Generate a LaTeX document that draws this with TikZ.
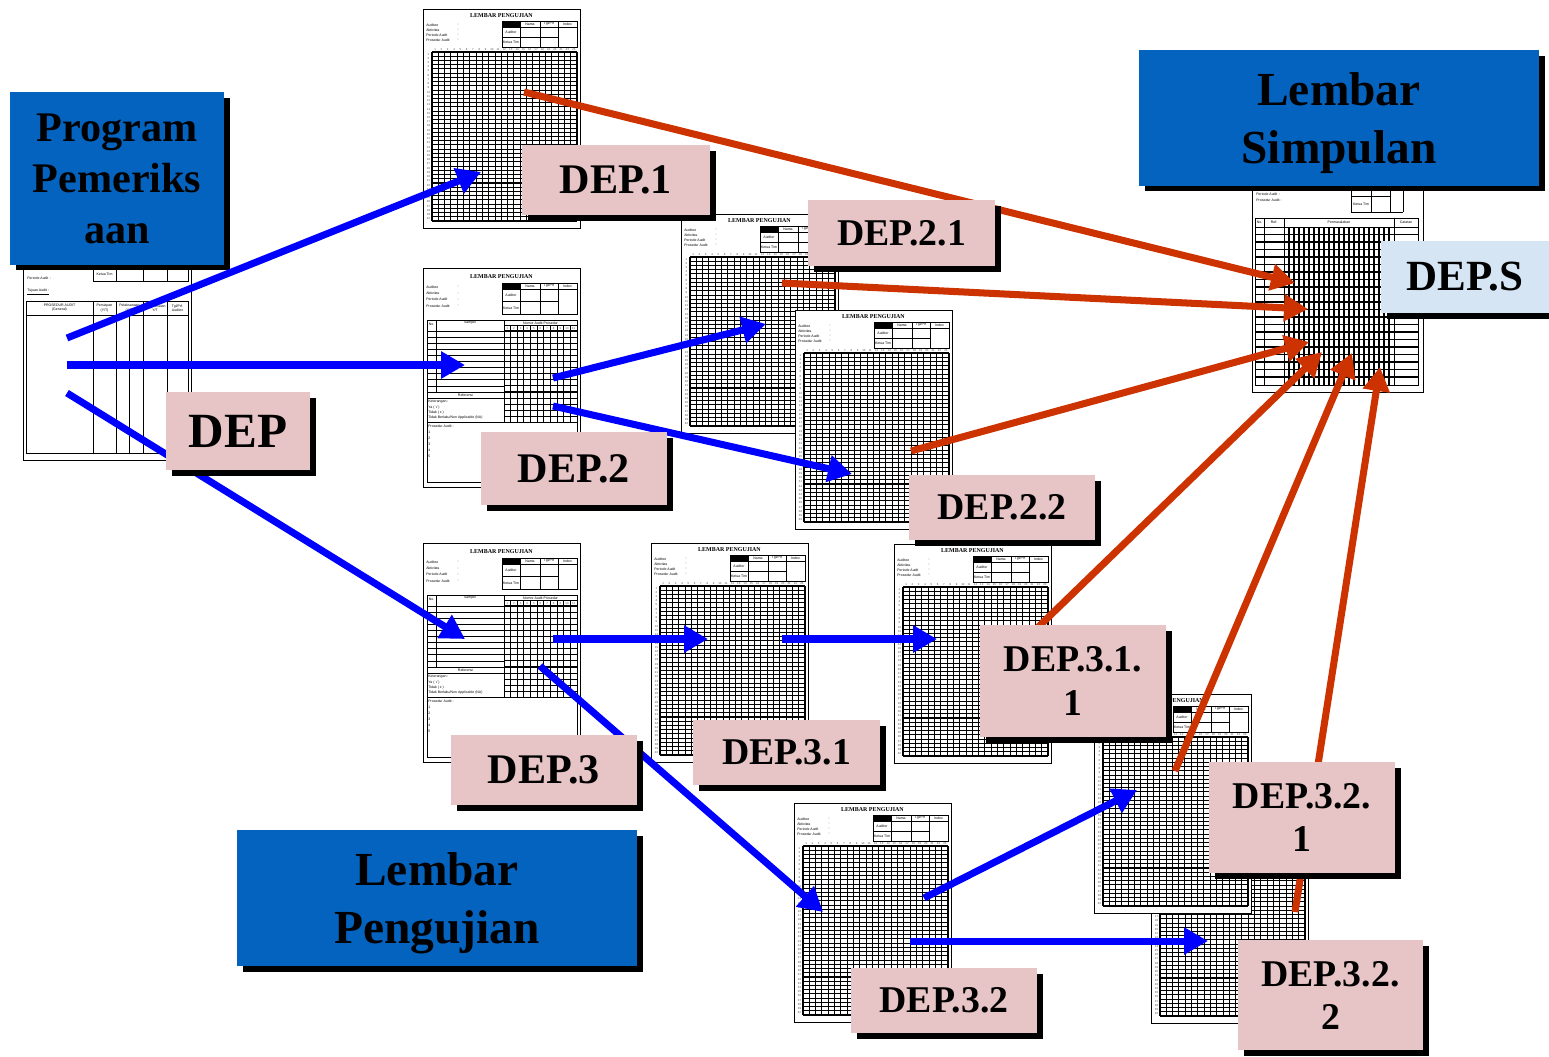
\documentclass[tikz,border=0pt]{standalone}
\usepackage{fontspec}
\setmainfont{Liberation Serif}
\setsansfont{Liberation Sans}
\usepackage{xcolor}
\definecolor{boxblue}{RGB}{5,99,192}
\definecolor{arrblue}{RGB}{0,0,255}
\definecolor{arrred}{RGB}{204,51,0}
\definecolor{labpink}{RGB}{231,196,197}
\definecolor{lablight}{RGB}{214,229,244}
\usetikzlibrary{arrows.meta, shadows}

\tikzset{
  sheet/.style={draw=black, fill=white, line width=0.45pt, inner sep=0pt},
  tbl/.style={draw=black, line width=0.45pt},
  gridln/.style={draw=black, line width=0.6pt},
  tinytxt/.style={font=\sffamily\fontsize{2}{2.4}\selectfont, inner sep=0pt},
  numtxt/.style={font=\sffamily\fontsize{1.6}{1.8}\selectfont, inner sep=0pt, text=black!70},
  titletxt/.style={font=\bfseries\fontsize{3.4}{4}\selectfont, inner sep=0pt},
  deplabel/.style={fill=labpink, align=center, inner sep=0pt,
    font=\bfseries\fontsize{21.5}{24.5}\selectfont,
    general shadow={fill=black, shadow xshift=0.12cm, shadow yshift=-0.11cm}},
  titlebox/.style={fill=boxblue, align=center, inner sep=0pt, text depth=0pt,
    font=\bfseries\fontsize{27}{32.5}\selectfont,
    general shadow={fill=black, shadow xshift=0.12cm, shadow yshift=-0.11cm}},
  bluearrow/.style={draw=arrblue, line width=4pt, -{Triangle[length=0.48cm, width=0.52cm]}},
  redarrow/.style={draw=arrred, line width=4pt, -{Triangle[length=0.48cm, width=0.52cm]}}
}

% header of a test sheet: title y, table top, row height
\newcommand{\sheethead}[3]{%
  \node[titletxt] at (78.5,#1) {LEMBAR PENGUJIAN};
  \foreach \lab [count=\k] in {Auditee,Aktivitas,Periode Audit,Prosedur Audit}
    \node[tinytxt, anchor=west] at (3,{#2+4+(\k-1)*#3/2}) {\lab};
  \foreach \k in {0,...,3}
    \node[tinytxt] at (35,{#2+4+\k*#3/2}) {:};
  \fill[black] (79,#2) rectangle (97,{#2+6});
  \draw[tbl] (79,#2) rectangle (154,{#2+6+2*#3});
  \draw[tbl] (79,{#2+6}) -- (154,{#2+6});
  \draw[tbl] (79,{#2+6+#3}) -- (135,{#2+6+#3});
  \foreach \xx in {97,117,135}
    \draw[tbl] (\xx,#2) -- (\xx,{#2+6+2*#3});
  \node[tinytxt] at (107,{#2+3}) {Nama};
  \node[tinytxt] at (126,{#2+3}) {Tgl/Prf};
  \node[tinytxt] at (144.5,{#2+3}) {Index};
  \node[tinytxt] at (88,{#2+6+#3/2}) {Auditor};
  \node[tinytxt] at (88,{#2+6+1.5*#3}) {Ketua Tim};
}

% test sheet with the big grid: name, x, y of top left corner
\newcommand{\gridsheet}[3]{%
  \begin{scope}[shift={(#2,#3)}]
    \node[sheet, anchor=north west, minimum width=3.14cm, minimum height=4.38cm] (#1) at (0,0) {};
    \sheethead{7}{12}{10}
    \foreach \ci in {1,...,23}
      \node[numtxt] at ({9+6.304*(\ci-0.5)},40.5) {\ci};
    \foreach \ri in {1,...,40}
      \node[numtxt] at (5.5,{43+4.225*(\ri-0.5)}) {\ri};
    \foreach \ci in {0,...,23}
      \draw[gridln] ({9+6.304*\ci},43) -- ({9+6.304*\ci},212);
    \foreach \ri in {0,...,40}
      \draw[gridln] (9,{43+4.225*\ri}) -- (154,{43+4.225*\ri});
  \end{scope}}

% test sheet with the sample table
\newcommand{\samplesheet}[3]{%
  \begin{scope}[shift={(#2,#3)}]
    \node[sheet, anchor=north west, minimum width=3.14cm, minimum height=4.38cm] (#1) at (0,0) {};
    \sheethead{9}{15}{12.5}
    \draw[tbl] (4,52) rectangle (154,214);
    \draw[tbl] (13,52) -- (13,124.1);
    \draw[tbl] (81,52) -- (81,154.5);
    \draw[tbl] (81,57.5) -- (154,57.5);
    \node[tinytxt] at (8.5,56) {No.};
    \node[tinytxt] at (47,55) {Sampel};
    \node[tinytxt] at (117.5,54.8) {Nomor Audit Prosedur};
    \foreach \ci in {1,...,11}
      \node[numtxt] at ({81+6.636*(\ci-0.5)},60.3) {\ci};
    \foreach \ci in {1,...,10}
      \draw[gridln] ({81+6.636*\ci},57.5) -- ({81+6.636*\ci},154.5);
    \foreach \ri in {0,...,15}
      \draw[gridln] (81,{63+6.1*\ri}) -- (154,{63+6.1*\ri});
    \foreach \ri in {0,...,11}
      \draw[tbl] (4,{63+6.1*\ri}) -- (81,{63+6.1*\ri});
    \draw[tbl] (4,154.5) -- (81,154.5);
    \node[tinytxt] at (42.5,127.2) {Referensi};
    \node[tinytxt, anchor=west] at (5,133.5) {Keterangan :};
    \node[tinytxt, anchor=west] at (5,139) {Ya ( √ )};
    \node[tinytxt, anchor=west] at (5,144.5) {Tidak ( x )};
    \node[tinytxt, anchor=west] at (5,150) {Tidak Berlaku/Non Applicable (NA)};
    \node[tinytxt, anchor=west] at (5,158) {Prosedur Audit :};
    \foreach \ri in {1,...,5}
      \node[tinytxt, anchor=west] at (5,{158+6*\ri}) {\ri};
  \end{scope}}

\begin{document}
\begin{tikzpicture}[x=0.02cm, y=-0.02cm]
  \fill[white] (0,0) rectangle (1549,1056);
  \useasboundingbox (0,0) rectangle (1549,1056);

  % --- Program sheet (left) ---
  \node[sheet, anchor=north west, minimum width=3.36cm, minimum height=4.5cm] (progsheet) at (23,235) {};
  \draw[tbl] (93,245) -- (93,281) -- (188,281) -- (188,245);
  \foreach \xx in {116,143,167}
    \draw[tbl] (\xx,245) -- (\xx,281);
  \draw[tbl] (93,268) -- (188,268);
  \node[tinytxt] at (104.5,274.5) {Ketua Tim};
  \node[tinytxt, anchor=west] at (27,278) {Periode Audit\enspace:};
  \node[tinytxt, anchor=west] at (27,292) {\underline{Tujuan Audit :}};
  \draw[tbl] (26,301) rectangle (188,453);
  \draw[tbl] (26,315) -- (188,315);
  \foreach \xx in {93,116,143,167}
    \draw[tbl] (\xx,301) -- (\xx,453);
  \draw[tbl] (129,315) -- (129,453);
  \node[tinytxt, align=center] at (59.5,308) {PROSEDUR AUDIT\\(General)};
  \node[tinytxt, align=center] at (104.5,308) {Persiapan\\(Y/T)};
  \node[tinytxt, align=center] at (129.5,308) {Pelaksanaan\\(Y/T)};
  \node[tinytxt, align=center] at (155,308) {Penyelesaian\\Y/T};
  \node[tinytxt, align=center] at (177.5,308) {Tgl/Prf.\\Auditor};

  % --- Test sheets ---
  \gridsheet{sheetdepone}{423}{9}
  \samplesheet{sheetdeptwo}{423}{268}
  \gridsheet{sheetdeptwoone}{681}{214}
  \gridsheet{sheetdeptwotwo}{795}{310}
  \samplesheet{sheetdepthree}{423}{543}
  \gridsheet{sheetdepthreeone}{651}{543}
  \gridsheet{sheetdepthreeoneone}{894}{544}
  \gridsheet{sheetdepthreetwo}{794}{803}
  \gridsheet{sheetdepthreetwotwo}{1151}{804}
  \gridsheet{sheetdepthreetwoone}{1094}{694}

  % --- Simpulan sheet ---
  \node[sheet, anchor=north west, minimum width=3.42cm, minimum height=4.24cm] (simsheet) at (1252,180) {};
  \node[tinytxt, anchor=west] at (1256,194) {Periode Audit\enspace:};
  \node[tinytxt, anchor=west] at (1256,200) {Prosedur Audit :};
  \foreach \xx in {1351,1371,1390,1403}
    \draw[tbl] (\xx,180) -- (\xx,212);
  \draw[tbl] (1351,196) -- (1390,196);
  \draw[tbl] (1351,212) -- (1403,212);
  \node[tinytxt] at (1361,204) {Ketua Tim};
  \draw[tbl] (1255,218) rectangle (1418,385);
  \draw[tbl] (1255,227) -- (1418,227);
  \foreach \xx in {1264,1284,1394}
    \draw[tbl] (\xx,218) -- (\xx,385);
  \foreach \ri in {1,...,20}
    \draw[gridln] (1255,{227+7.5*\ri}) -- (1418,{227+7.5*\ri});
  \foreach \ci in {1,...,21}
    \draw[gridln] ({1284+5*\ci},227) -- ({1284+5*\ci},385);
  \node[tinytxt] at (1259.5,222.5) {No.};
  \node[tinytxt] at (1274,222.5) {Ref.};
  \node[tinytxt] at (1339,222.5) {Permasalahan};
  \node[tinytxt] at (1406,222.5) {Catatan};

  % --- Title boxes ---
  \node[titlebox, minimum width=4.28cm, minimum height=3.46cm,
    font=\bfseries\fontsize{24}{29}\selectfont] (progbox) at (117,178.5) {Program\\Pemeriks\\aan};
  \node[titlebox, minimum width=8cm, minimum height=2.72cm] (simbox) at (1339,118) {Lembar\\Simpulan};
  \node[titlebox, minimum width=8cm, minimum height=2.72cm] (ujibox) at (437,898) {Lembar\\Pengujian};

  % --- Arrow ends ---
  \coordinate (progA) at (67,338);
  \coordinate (progB) at (67,365);
  \coordinate (progC) at (67,393);
  \coordinate (dep1in) at (481,172);
  \coordinate (dep2in) at (465,365);
  \coordinate (dep3in) at (465,639);
  \coordinate (dep2outA) at (553,378);
  \coordinate (dep2outB) at (553,406);
  \coordinate (dep21in) at (766,324);
  \coordinate (dep22in) at (852,474);
  \coordinate (dep3outA) at (553,639);
  \coordinate (dep3outB) at (540,666);
  \coordinate (dep31in) at (708,639);
  \coordinate (dep31out) at (782,639);
  \coordinate (dep311in) at (937,639);
  \coordinate (dep32in) at (823,912);
  \coordinate (dep32outA) at (924,898);
  \coordinate (dep32outB) at (910,941);
  \coordinate (dep321in) at (1137,790);
  \coordinate (dep322in) at (1208,941);
  \coordinate (dep1out) at (524,92);
  \coordinate (dep21out) at (782,283);
  \coordinate (dep22out) at (911,451);
  \coordinate (dep311out) at (1030,635);
  \coordinate (dep321out) at (1175,771);
  \coordinate (dep322out) at (1295,912);
  \coordinate (depsA) at (1295,283);
  \coordinate (depsB) at (1308,309);
  \coordinate (depsC) at (1309,342);
  \coordinate (depsD) at (1322,352);
  \coordinate (depsE) at (1352,353);
  \coordinate (depsF) at (1380,367);

  % blue: program to test sheets
  \draw[bluearrow] (progA) -- (dep1in);
  \draw[bluearrow] (progB) -- (dep2in);
  \draw[bluearrow] (progC) -- (dep3in);
  \draw[bluearrow] (dep2outA) -- (dep21in);
  \draw[bluearrow] (dep2outB) -- (dep22in);
  \draw[bluearrow] (dep3outA) -- (dep31in);
  \draw[bluearrow] (dep31out) -- (dep311in);
  \draw[bluearrow] (dep3outB) -- (dep32in);
  \draw[bluearrow] (dep32outA) -- (dep321in);
  \draw[bluearrow] (dep32outB) -- (dep322in);

  % red: test sheets to simpulan
  \draw[redarrow] (dep1out) -- (depsA);
  \draw[redarrow] (dep21out) -- (depsB);
  \draw[redarrow] (dep22out) -- (depsC);
  \draw[redarrow] (dep311out) -- (depsD);
  \draw[redarrow] (dep321out) -- (depsE);
  \draw[redarrow] (dep322out) -- (depsF);

  % --- Labels ---
  \node[deplabel, minimum width=3.76cm, minimum height=1.4cm,
    font=\bfseries\fontsize{24}{26}\selectfont] (lbdepone) at (616,180) {DEP.1};
  \node[deplabel, minimum width=3.74cm, minimum height=1.32cm] (lbdeptwoone) at (901.5,233) {DEP.2.1};
  \node[deplabel, minimum width=2.88cm, minimum height=1.56cm,
    font=\bfseries\fontsize{28}{30}\selectfont] (lbdep) at (238,431) {DEP};
  \node[deplabel, minimum width=3.72cm, minimum height=1.46cm,
    font=\bfseries\fontsize{24}{26}\selectfont] (lbdeptwo) at (574,468.5) {DEP.2};
  \node[deplabel, minimum width=3.72cm, minimum height=1.3cm] (lbdeptwotwo) at (1002,507.5) {DEP.2.2};
  \node[deplabel, minimum width=3.72cm, minimum height=2.24cm] (lbdepthreeoneone) at (1073,681) {DEP.3.1.\\1};
  \node[deplabel, minimum width=3.72cm, minimum height=1.4cm,
    font=\bfseries\fontsize{24}{26}\selectfont] (lbdepthree) at (544,770) {DEP.3};
  \node[deplabel, minimum width=3.74cm, minimum height=1.3cm] (lbdepthreeone) at (786.5,752.5) {DEP.3.1};
  \node[deplabel, minimum width=3.72cm, minimum height=2.22cm] (lbdepthreetwoone) at (1302,817.5) {DEP.3.2.\\1};
  \node[deplabel, minimum width=3.72cm, minimum height=1.3cm] (lbdepthreetwo) at (944,1000.5) {DEP.3.2};
  \node[deplabel, minimum width=3.7cm, minimum height=2.2cm] (lbdepthreetwotwo) at (1330.5,995) {DEP.3.2.\\2};
  \node[deplabel, fill=lablight, minimum width=3.36cm, minimum height=1.44cm,
    font=\bfseries\fontsize{24.5}{26}\selectfont] (lbdeps) at (1465,277) {DEP.S};
\end{tikzpicture}
\end{document}
